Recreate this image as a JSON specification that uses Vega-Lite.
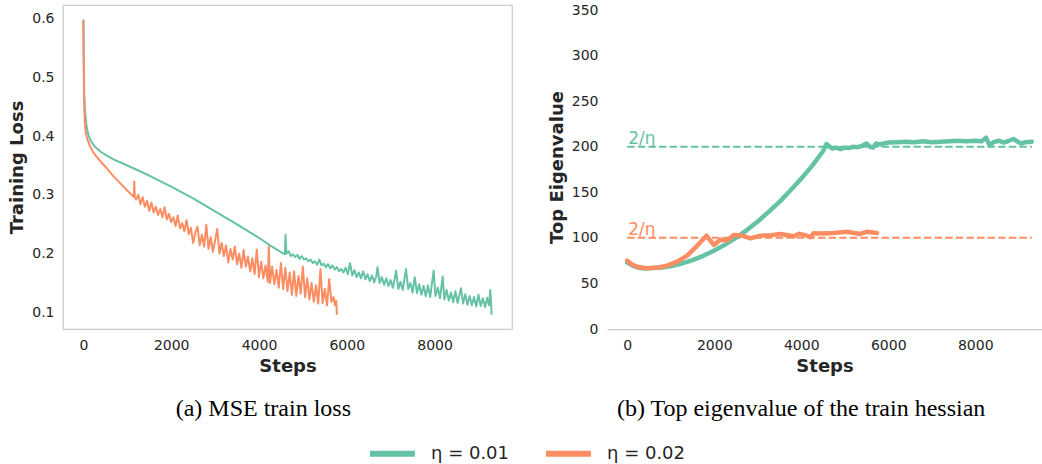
{
  "$schema": "https://vega.github.io/schema/vega-lite/v6.json",
  "padding": {"left": 8, "top": 3, "right": 0, "bottom": 0},
  "spacing": 35,
  "background": "white",
  "config": {
    "font": "DejaVu Sans",
    "view": {"stroke": "#cccccc", "strokeWidth": 1.25},
    "axis": {"grid": false, "ticks": false, "domain": false, "labelFontSize": 14, "labelColor": "#262626", "labelPadding": 9, "titleFontSize": 18, "titleFontWeight": "bold", "titleColor": "#262626", "titlePadding": 5, "labelFont": "DejaVu Sans", "titleFont": "DejaVu Sans"},
    "title": {"font": "Liberation Serif", "fontSize": 24, "fontWeight": "normal", "color": "black", "orient": "bottom", "anchor": "middle", "frame": "bounds", "offset": 22}
  },
  "datasets": {
    "loss": [
      {"s":0,"v":0.598,"k":"η = 0.01"},{"s":8,"v":0.53,"k":"η = 0.01"},{"s":20,"v":0.47,"k":"η = 0.01"},{"s":40,"v":0.44,"k":"η = 0.01"},{"s":70,"v":0.418,"k":"η = 0.01"},{"s":110,"v":0.403,"k":"η = 0.01"},{"s":160,"v":0.393,"k":"η = 0.01"},{"s":250,"v":0.383,"k":"η = 0.01"},{"s":400,"v":0.373,"k":"η = 0.01"},{"s":550,"v":0.366,"k":"η = 0.01"},{"s":700,"v":0.36,"k":"η = 0.01"},{"s":1000,"v":0.35,"k":"η = 0.01"},{"s":1500,"v":0.333,"k":"η = 0.01"},{"s":2000,"v":0.314,"k":"η = 0.01"},{"s":2500,"v":0.294,"k":"η = 0.01"},{"s":3000,"v":0.272,"k":"η = 0.01"},{"s":3500,"v":0.25,"k":"η = 0.01"},{"s":4000,"v":0.227,"k":"η = 0.01"},{"s":4250,"v":0.214,"k":"η = 0.01"},{"s":4540,"v":0.201,"k":"η = 0.01"},
      {"s":4590,"v":0.199,"k":"η = 0.01"},{"s":4605,"v":0.232,"k":"η = 0.01"},{"s":4625,"v":0.2,"k":"η = 0.01"},{"s":4675,"v":0.204,"k":"η = 0.01"},{"s":4725,"v":0.196,"k":"η = 0.01"},{"s":4775,"v":0.199,"k":"η = 0.01"},{"s":4825,"v":0.194,"k":"η = 0.01"},{"s":4875,"v":0.198,"k":"η = 0.01"},{"s":4925,"v":0.191,"k":"η = 0.01"},{"s":4975,"v":0.196,"k":"η = 0.01"},{"s":5025,"v":0.19,"k":"η = 0.01"},{"s":5075,"v":0.192,"k":"η = 0.01"},{"s":5125,"v":0.187,"k":"η = 0.01"},{"s":5175,"v":0.19,"k":"η = 0.01"},{"s":5225,"v":0.184,"k":"η = 0.01"},{"s":5275,"v":0.187,"k":"η = 0.01"},{"s":5325,"v":0.181,"k":"η = 0.01"},{"s":5375,"v":0.19,"k":"η = 0.01"},{"s":5425,"v":0.18,"k":"η = 0.01"},{"s":5475,"v":0.183,"k":"η = 0.01"},{"s":5525,"v":0.177,"k":"η = 0.01"},{"s":5575,"v":0.182,"k":"η = 0.01"},{"s":5625,"v":0.175,"k":"η = 0.01"},{"s":5675,"v":0.18,"k":"η = 0.01"},{"s":5725,"v":0.173,"k":"η = 0.01"},{"s":5775,"v":0.177,"k":"η = 0.01"},{"s":5825,"v":0.17,"k":"η = 0.01"},{"s":5875,"v":0.174,"k":"η = 0.01"},{"s":5925,"v":0.168,"k":"η = 0.01"},{"s":5975,"v":0.176,"k":"η = 0.01"},{"s":6025,"v":0.165,"k":"η = 0.01"},{"s":6075,"v":0.184,"k":"η = 0.01"},{"s":6125,"v":0.163,"k":"η = 0.01"},{"s":6175,"v":0.172,"k":"η = 0.01"},{"s":6225,"v":0.16,"k":"η = 0.01"},{"s":6275,"v":0.168,"k":"η = 0.01"},{"s":6325,"v":0.158,"k":"η = 0.01"},{"s":6375,"v":0.17,"k":"η = 0.01"},{"s":6425,"v":0.156,"k":"η = 0.01"},{"s":6475,"v":0.165,"k":"η = 0.01"},{"s":6525,"v":0.153,"k":"η = 0.01"},{"s":6575,"v":0.163,"k":"η = 0.01"},{"s":6625,"v":0.151,"k":"η = 0.01"},{"s":6675,"v":0.162,"k":"η = 0.01"},{"s":6700,"v":0.177,"k":"η = 0.01"},{"s":6750,"v":0.15,"k":"η = 0.01"},{"s":6800,"v":0.16,"k":"η = 0.01"},{"s":6850,"v":0.147,"k":"η = 0.01"},{"s":6900,"v":0.158,"k":"η = 0.01"},{"s":6950,"v":0.145,"k":"η = 0.01"},{"s":7000,"v":0.155,"k":"η = 0.01"},{"s":7050,"v":0.142,"k":"η = 0.01"},{"s":7100,"v":0.16,"k":"η = 0.01"},{"s":7125,"v":0.171,"k":"η = 0.01"},{"s":7175,"v":0.14,"k":"η = 0.01"},{"s":7225,"v":0.152,"k":"η = 0.01"},{"s":7275,"v":0.138,"k":"η = 0.01"},{"s":7350,"v":0.174,"k":"η = 0.01"},{"s":7400,"v":0.14,"k":"η = 0.01"},{"s":7450,"v":0.15,"k":"η = 0.01"},{"s":7500,"v":0.134,"k":"η = 0.01"},{"s":7550,"v":0.16,"k":"η = 0.01"},{"s":7600,"v":0.133,"k":"η = 0.01"},{"s":7650,"v":0.148,"k":"η = 0.01"},{"s":7700,"v":0.13,"k":"η = 0.01"},{"s":7750,"v":0.145,"k":"η = 0.01"},{"s":7800,"v":0.128,"k":"η = 0.01"},{"s":7850,"v":0.146,"k":"η = 0.01"},{"s":7900,"v":0.126,"k":"η = 0.01"},{"s":7980,"v":0.171,"k":"η = 0.01"},{"s":8020,"v":0.128,"k":"η = 0.01"},{"s":8075,"v":0.142,"k":"η = 0.01"},{"s":8125,"v":0.124,"k":"η = 0.01"},{"s":8185,"v":0.161,"k":"η = 0.01"},{"s":8225,"v":0.122,"k":"η = 0.01"},{"s":8275,"v":0.138,"k":"η = 0.01"},{"s":8325,"v":0.12,"k":"η = 0.01"},{"s":8375,"v":0.134,"k":"η = 0.01"},{"s":8425,"v":0.117,"k":"η = 0.01"},{"s":8475,"v":0.136,"k":"η = 0.01"},{"s":8525,"v":0.116,"k":"η = 0.01"},{"s":8603,"v":0.141,"k":"η = 0.01"},{"s":8650,"v":0.115,"k":"η = 0.01"},{"s":8700,"v":0.131,"k":"η = 0.01"},{"s":8750,"v":0.113,"k":"η = 0.01"},{"s":8800,"v":0.128,"k":"η = 0.01"},{"s":8850,"v":0.112,"k":"η = 0.01"},{"s":8900,"v":0.126,"k":"η = 0.01"},{"s":8950,"v":0.11,"k":"η = 0.01"},{"s":9000,"v":0.13,"k":"η = 0.01"},{"s":9050,"v":0.111,"k":"η = 0.01"},{"s":9100,"v":0.124,"k":"η = 0.01"},{"s":9150,"v":0.109,"k":"η = 0.01"},{"s":9200,"v":0.125,"k":"η = 0.01"},{"s":9240,"v":0.112,"k":"η = 0.01"},{"s":9271,"v":0.138,"k":"η = 0.01"},{"s":9290,"v":0.115,"k":"η = 0.01"},{"s":9300,"v":0.096,"k":"η = 0.01"},
      {"s":0,"v":0.598,"k":"η = 0.02"},{"s":5,"v":0.54,"k":"η = 0.02"},{"s":15,"v":0.46,"k":"η = 0.02"},{"s":30,"v":0.425,"k":"η = 0.02"},{"s":55,"v":0.405,"k":"η = 0.02"},{"s":90,"v":0.395,"k":"η = 0.02"},{"s":150,"v":0.383,"k":"η = 0.02"},{"s":228,"v":0.372,"k":"η = 0.02"},{"s":300,"v":0.365,"k":"η = 0.02"},{"s":400,"v":0.356,"k":"η = 0.02"},{"s":500,"v":0.348,"k":"η = 0.02"},{"s":683,"v":0.332,"k":"η = 0.02"},{"s":800,"v":0.323,"k":"η = 0.02"},{"s":950,"v":0.311,"k":"η = 0.02"},{"s":1100,"v":0.3,"k":"η = 0.02"},{"s":1150,"v":0.297,"k":"η = 0.02"},{"s":1160,"v":0.323,"k":"η = 0.02"},{"s":1170,"v":0.297,"k":"η = 0.02"},{"s":1200,"v":0.292,"k":"η = 0.02"},
      {"s":1250,"v":0.3,"k":"η = 0.02"},{"s":1300,"v":0.284,"k":"η = 0.02"},{"s":1350,"v":0.296,"k":"η = 0.02"},{"s":1400,"v":0.28,"k":"η = 0.02"},{"s":1450,"v":0.29,"k":"η = 0.02"},{"s":1500,"v":0.273,"k":"η = 0.02"},{"s":1550,"v":0.287,"k":"η = 0.02"},{"s":1600,"v":0.27,"k":"η = 0.02"},{"s":1650,"v":0.28,"k":"η = 0.02"},{"s":1700,"v":0.266,"k":"η = 0.02"},{"s":1750,"v":0.276,"k":"η = 0.02"},{"s":1800,"v":0.262,"k":"η = 0.02"},{"s":1850,"v":0.279,"k":"η = 0.02"},{"s":1900,"v":0.258,"k":"η = 0.02"},{"s":1950,"v":0.268,"k":"η = 0.02"},{"s":2000,"v":0.254,"k":"η = 0.02"},{"s":2050,"v":0.262,"k":"η = 0.02"},{"s":2100,"v":0.247,"k":"η = 0.02"},{"s":2150,"v":0.265,"k":"η = 0.02"},{"s":2200,"v":0.243,"k":"η = 0.02"},{"s":2250,"v":0.252,"k":"η = 0.02"},{"s":2300,"v":0.238,"k":"η = 0.02"},{"s":2350,"v":0.257,"k":"η = 0.02"},{"s":2400,"v":0.233,"k":"η = 0.02"},{"s":2450,"v":0.244,"k":"η = 0.02"},{"s":2500,"v":0.218,"k":"η = 0.02"},{"s":2550,"v":0.236,"k":"η = 0.02"},{"s":2600,"v":0.246,"k":"η = 0.02"},{"s":2650,"v":0.214,"k":"η = 0.02"},{"s":2700,"v":0.232,"k":"η = 0.02"},{"s":2750,"v":0.212,"k":"η = 0.02"},{"s":2800,"v":0.249,"k":"η = 0.02"},{"s":2850,"v":0.208,"k":"η = 0.02"},{"s":2900,"v":0.228,"k":"η = 0.02"},{"s":2950,"v":0.203,"k":"η = 0.02"},{"s":3000,"v":0.222,"k":"η = 0.02"},{"s":3050,"v":0.242,"k":"η = 0.02"},{"s":3100,"v":0.2,"k":"η = 0.02"},{"s":3150,"v":0.218,"k":"η = 0.02"},{"s":3200,"v":0.196,"k":"η = 0.02"},{"s":3250,"v":0.214,"k":"η = 0.02"},{"s":3300,"v":0.185,"k":"η = 0.02"},{"s":3350,"v":0.208,"k":"η = 0.02"},{"s":3400,"v":0.19,"k":"η = 0.02"},{"s":3450,"v":0.212,"k":"η = 0.02"},{"s":3500,"v":0.182,"k":"η = 0.02"},{"s":3550,"v":0.2,"k":"η = 0.02"},{"s":3600,"v":0.176,"k":"η = 0.02"},{"s":3650,"v":0.206,"k":"η = 0.02"},{"s":3700,"v":0.178,"k":"η = 0.02"},{"s":3750,"v":0.195,"k":"η = 0.02"},{"s":3800,"v":0.17,"k":"η = 0.02"},{"s":3850,"v":0.192,"k":"η = 0.02"},{"s":3900,"v":0.165,"k":"η = 0.02"},{"s":3950,"v":0.207,"k":"η = 0.02"},{"s":4000,"v":0.16,"k":"η = 0.02"},{"s":4050,"v":0.186,"k":"η = 0.02"},{"s":4100,"v":0.158,"k":"η = 0.02"},{"s":4150,"v":0.18,"k":"η = 0.02"},{"s":4200,"v":0.152,"k":"η = 0.02"},{"s":4225,"v":0.212,"k":"η = 0.02"},{"s":4250,"v":0.15,"k":"η = 0.02"},{"s":4300,"v":0.178,"k":"η = 0.02"},{"s":4350,"v":0.148,"k":"η = 0.02"},{"s":4400,"v":0.172,"k":"η = 0.02"},{"s":4450,"v":0.142,"k":"η = 0.02"},{"s":4500,"v":0.184,"k":"η = 0.02"},{"s":4550,"v":0.14,"k":"η = 0.02"},{"s":4600,"v":0.176,"k":"η = 0.02"},{"s":4650,"v":0.136,"k":"η = 0.02"},{"s":4700,"v":0.168,"k":"η = 0.02"},{"s":4750,"v":0.13,"k":"η = 0.02"},{"s":4800,"v":0.17,"k":"η = 0.02"},{"s":4850,"v":0.128,"k":"η = 0.02"},{"s":4900,"v":0.162,"k":"η = 0.02"},{"s":4950,"v":0.132,"k":"η = 0.02"},{"s":5000,"v":0.178,"k":"η = 0.02"},{"s":5050,"v":0.126,"k":"η = 0.02"},{"s":5100,"v":0.158,"k":"η = 0.02"},{"s":5150,"v":0.122,"k":"η = 0.02"},{"s":5200,"v":0.15,"k":"η = 0.02"},{"s":5250,"v":0.118,"k":"η = 0.02"},{"s":5300,"v":0.146,"k":"η = 0.02"},{"s":5350,"v":0.115,"k":"η = 0.02"},{"s":5400,"v":0.174,"k":"η = 0.02"},{"s":5450,"v":0.116,"k":"η = 0.02"},{"s":5500,"v":0.14,"k":"η = 0.02"},{"s":5550,"v":0.112,"k":"η = 0.02"},{"s":5600,"v":0.157,"k":"η = 0.02"},{"s":5650,"v":0.118,"k":"η = 0.02"},{"s":5700,"v":0.126,"k":"η = 0.02"},{"s":5730,"v":0.112,"k":"η = 0.02"},{"s":5760,"v":0.12,"k":"η = 0.02"},{"s":5775,"v":0.096,"k":"η = 0.02"}
    ],
    "eig": [
      {"s":0,"v":73,"k":"η = 0.01"},{"s":100,"v":70,"k":"η = 0.01"},{"s":200,"v":68,"k":"η = 0.01"},{"s":300,"v":67,"k":"η = 0.01"},{"s":400,"v":66.5,"k":"η = 0.01"},{"s":600,"v":66.8,"k":"η = 0.01"},{"s":800,"v":67.4,"k":"η = 0.01"},{"s":1000,"v":68.8,"k":"η = 0.01"},{"s":1250,"v":71.7,"k":"η = 0.01"},{"s":1500,"v":75.5,"k":"η = 0.01"},{"s":1750,"v":80.3,"k":"η = 0.01"},{"s":2000,"v":86.1,"k":"η = 0.01"},{"s":2250,"v":92.6,"k":"η = 0.01"},{"s":2500,"v":100,"k":"η = 0.01"},{"s":2750,"v":108.5,"k":"η = 0.01"},{"s":3000,"v":118,"k":"η = 0.01"},{"s":3250,"v":128.5,"k":"η = 0.01"},{"s":3500,"v":139.5,"k":"η = 0.01"},{"s":3750,"v":152,"k":"η = 0.01"},{"s":4000,"v":165,"k":"η = 0.01"},{"s":4250,"v":179,"k":"η = 0.01"},{"s":4500,"v":195,"k":"η = 0.01"},{"s":4580,"v":203,"k":"η = 0.01"},{"s":4650,"v":200,"k":"η = 0.01"},{"s":4720,"v":198,"k":"η = 0.01"},{"s":4800,"v":199,"k":"η = 0.01"},{"s":4900,"v":197.5,"k":"η = 0.01"},{"s":5000,"v":199,"k":"η = 0.01"},{"s":5100,"v":198.5,"k":"η = 0.01"},{"s":5200,"v":200,"k":"η = 0.01"},{"s":5300,"v":199.5,"k":"η = 0.01"},{"s":5400,"v":201,"k":"η = 0.01"},{"s":5500,"v":203.5,"k":"η = 0.01"},{"s":5580,"v":200,"k":"η = 0.01"},{"s":5650,"v":199,"k":"η = 0.01"},{"s":5720,"v":203.5,"k":"η = 0.01"},{"s":5800,"v":202.5,"k":"η = 0.01"},{"s":5900,"v":203.5,"k":"η = 0.01"},{"s":6000,"v":204.5,"k":"η = 0.01"},{"s":6200,"v":205,"k":"η = 0.01"},{"s":6400,"v":205.5,"k":"η = 0.01"},{"s":6600,"v":205,"k":"η = 0.01"},{"s":6800,"v":206,"k":"η = 0.01"},{"s":7000,"v":205,"k":"η = 0.01"},{"s":7200,"v":205.5,"k":"η = 0.01"},{"s":7400,"v":206,"k":"η = 0.01"},{"s":7600,"v":206.5,"k":"η = 0.01"},{"s":7800,"v":206,"k":"η = 0.01"},{"s":8000,"v":206.5,"k":"η = 0.01"},{"s":8150,"v":206,"k":"η = 0.01"},{"s":8250,"v":210,"k":"η = 0.01"},{"s":8330,"v":201.5,"k":"η = 0.01"},{"s":8420,"v":205,"k":"η = 0.01"},{"s":8550,"v":206.5,"k":"η = 0.01"},{"s":8650,"v":204.5,"k":"η = 0.01"},{"s":8750,"v":206,"k":"η = 0.01"},{"s":8880,"v":208.5,"k":"η = 0.01"},{"s":8960,"v":206,"k":"η = 0.01"},{"s":9050,"v":203.5,"k":"η = 0.01"},{"s":9150,"v":205,"k":"η = 0.01"},{"s":9300,"v":205.5,"k":"η = 0.01"},
      {"s":0,"v":75,"k":"η = 0.02"},{"s":120,"v":70.5,"k":"η = 0.02"},{"s":267,"v":67.7,"k":"η = 0.02"},{"s":459,"v":66.6,"k":"η = 0.02"},{"s":700,"v":67.5,"k":"η = 0.02"},{"s":919,"v":69.5,"k":"η = 0.02"},{"s":1150,"v":74,"k":"η = 0.02"},{"s":1378,"v":80.5,"k":"η = 0.02"},{"s":1600,"v":91,"k":"η = 0.02"},{"s":1822,"v":102.4,"k":"η = 0.02"},{"s":1990,"v":92.2,"k":"η = 0.02"},{"s":2143,"v":98,"k":"η = 0.02"},{"s":2296,"v":97,"k":"η = 0.02"},{"s":2449,"v":103.2,"k":"η = 0.02"},{"s":2650,"v":102.5,"k":"η = 0.02"},{"s":2833,"v":99.5,"k":"η = 0.02"},{"s":3062,"v":102.4,"k":"η = 0.02"},{"s":3300,"v":103,"k":"η = 0.02"},{"s":3521,"v":104.3,"k":"η = 0.02"},{"s":3827,"v":101.7,"k":"η = 0.02"},{"s":3950,"v":104.5,"k":"η = 0.02"},{"s":4134,"v":102.4,"k":"η = 0.02"},{"s":4210,"v":100.6,"k":"η = 0.02"},{"s":4287,"v":105,"k":"η = 0.02"},{"s":4500,"v":104.8,"k":"η = 0.02"},{"s":4745,"v":105.4,"k":"η = 0.02"},{"s":5053,"v":106.8,"k":"η = 0.02"},{"s":5358,"v":104.3,"k":"η = 0.02"},{"s":5512,"v":106.8,"k":"η = 0.02"},{"s":5742,"v":105.4,"k":"η = 0.02"}
    ],
    "ref": [
      {"k":"η = 0.01","v":200,"x0":0,"x1":9300,"lab":"2/η"},
      {"k":"η = 0.02","v":100,"x0":0,"x1":9300,"lab":"2/η"}
    ]
  },
  "resolve": {"scale": {"color": "shared"}, "legend": {"color": "shared"}},
  "hconcat": [
    {
      "width": 449,
      "height": 324,
      "title": {"text": "(a) MSE train loss", "dx": 3},
      "data": {"name": "loss"},
      "mark": {"type": "line", "strokeWidth": 2, "strokeJoin": "round"},
      "encoding": {
        "x": {"field": "s", "type": "quantitative", "scale": {"domain": [-465, 9765], "nice": false, "zero": false}, "axis": {"title": "Steps", "values": [0, 2000, 4000, 6000, 8000], "format": "d"}},
        "y": {"field": "v", "type": "quantitative", "scale": {"domain": [0.0717, 0.6233], "nice": false, "zero": false}, "axis": {"title": "Training Loss", "values": [0.1, 0.2, 0.3, 0.4, 0.5, 0.6], "format": ".1f"}},
        "color": {"field": "k", "type": "nominal", "scale": {"domain": ["η = 0.01", "η = 0.02"], "range": ["#66c2a5", "#fc8d62"]},
          "legend": {"orient": "none", "direction": "horizontal", "legendX": 304, "legendY": 423, "symbolType": "stroke", "symbolSize": 2025, "symbolStrokeWidth": 6, "symbolOpacity": 1, "labelFontSize": 18, "labelColor": "#262626", "labelOffset": 13, "columnPadding": 24, "title": null, "padding": 0}},
        "order": {"field": "s", "type": "quantitative"}
      }
    },
    {
      "width": 435,
      "height": 324,
      "view": {"stroke": null},
      "title": {"text": "(b) Top eigenvalue of the train hessian", "dx": 6},
      "layer": [
        {
          "mark": {"type": "rule", "color": "#cccccc", "strokeWidth": 1.25},
          "encoding": {
            "x": {"datum": -465, "type": "quantitative", "scale": {"domain": [-465, 9535], "nice": false, "zero": false}, "axis": {"title": "Steps", "values": [0, 2000, 4000, 6000, 8000], "format": "d", "domain": true, "domainColor": "#cccccc", "domainWidth": 1.25}},
            "y": {"datum": 0, "type": "quantitative", "scale": {"domain": [0, 355.5], "nice": false, "zero": false}, "axis": {"title": "Top Eigenvalue", "values": [0, 50, 100, 150, 200, 250, 300, 350]}},
            "y2": {"datum": 350}
          }
        },
        {
          "mark": {"type": "rule", "color": "#cccccc", "strokeWidth": 1.25},
          "encoding": {
            "x": {"datum": -465, "type": "quantitative"},
            "x2": {"datum": 9535},
            "y": {"datum": 350, "type": "quantitative"}
          }
        },
        {
          "data": {"name": "ref"},
          "mark": {"type": "rule", "strokeWidth": 2, "strokeDash": [7.4, 3.2]},
          "encoding": {
            "x": {"field": "x0", "type": "quantitative"},
            "x2": {"field": "x1"},
            "y": {"field": "v", "type": "quantitative"},
            "color": {"field": "k", "type": "nominal", "legend": null}
          }
        },
        {
          "data": {"name": "ref"},
          "mark": {"type": "text", "align": "left", "baseline": "alphabetic", "fontSize": 17, "dy": -3, "dx": 1},
          "encoding": {
            "x": {"field": "x0", "type": "quantitative"},
            "y": {"field": "v", "type": "quantitative"},
            "text": {"field": "lab"},
            "color": {"field": "k", "type": "nominal", "legend": null}
          }
        },
        {
          "data": {"name": "eig"},
          "mark": {"type": "line", "strokeWidth": 4.5, "strokeJoin": "round", "strokeCap": "round"},
          "encoding": {
            "x": {"field": "s", "type": "quantitative"},
            "y": {"field": "v", "type": "quantitative"},
            "color": {"field": "k", "type": "nominal", "legend": null},
            "order": {"field": "s", "type": "quantitative"}
          }
        }
      ]
    }
  ]
}
